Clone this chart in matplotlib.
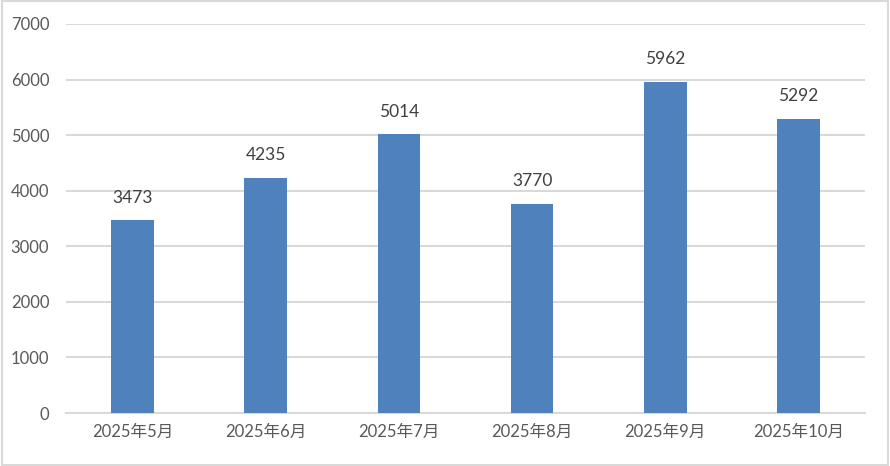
import matplotlib
matplotlib.use("Agg")
import matplotlib.pyplot as plt
from matplotlib.patches import Rectangle

# chart data
months = ["2025年5月", "2025年6月", "2025年7月", "2025年8月", "2025年9月", "2025年10月"]
values = [3473, 4235, 5014, 3770, 5962, 5292]
y_ticks = [0, 1000, 2000, 3000, 4000, 5000, 6000, 7000]

plt.rcParams['font.family'] = ['Lato', 'Noto Sans CJK SC', 'DejaVu Sans']
TEXT = '#595959'
GRID = '#D9D9D9'
BAR = '#4F81BD'

fig = plt.figure(figsize=(8.9, 4.66), dpi=100)
ax = fig.add_axes([0.074, 0.1137, 0.898, 0.8348])

x = list(range(len(months)))
ax.bar(x, values, width=0.32, color=BAR, zorder=3)

# value labels above each bar
for xi, v in zip(x, values):
    ax.text(xi, v + 260, str(v), ha='center', va='bottom', fontsize=12.5, color='#404040')

ax.set_xlim(-0.5, len(months) - 0.5)
ax.set_ylim(0, 7000)
ax.set_yticks(y_ticks)
ax.set_yticklabels([str(t) for t in y_ticks])
ax.set_xticks(x)
ax.set_xticklabels(months)
ax.yaxis.grid(True, color=GRID, linewidth=1.5, zorder=0)
ax.tick_params(axis='y', length=0, labelsize=12, colors=TEXT, pad=12)
ax.tick_params(axis='x', length=0, labelsize=12, colors=TEXT, pad=8)
for s in ['top', 'right', 'left']:
    ax.spines[s].set_visible(False)
ax.spines['bottom'].set_color(GRID)
ax.spines['bottom'].set_linewidth(1.5)

# outer chart border
fig.patches.append(Rectangle((0.002, 0.003), 0.996, 0.994, transform=fig.transFigure,
                             fill=False, edgecolor=GRID, linewidth=1.5))

fig.savefig("out.png", dpi=100)
